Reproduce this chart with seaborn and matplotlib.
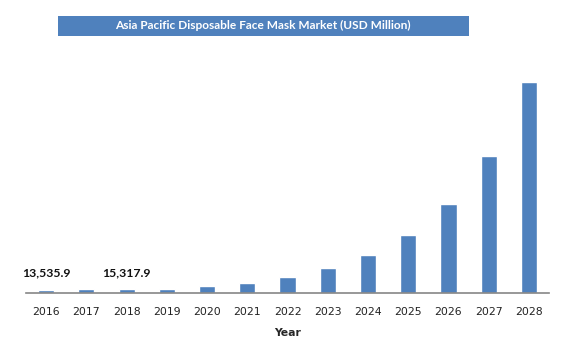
import numpy as np
import pandas as pd
import matplotlib
matplotlib.use("Agg")
import matplotlib.pyplot as plt
import seaborn as sns
from matplotlib.patches import Rectangle

years = ["2016", "2017", "2018", "2019", "2020", "2021", "2022",
         "2023", "2024", "2025", "2026", "2027", "2028"]
market = [13535.9, 14400, 15317.9, 16300, 28000, 38600, 63000,
          96500, 146700, 224000, 343700, 529000, 815000]
# only these bars carry a label in the source
labelled = {"2016": "13,535.9", "2018": "15,317.9"}

title = "Asia Pacific Disposable Face Mask Market (USD Million)"
bar_color = "#4F81BD"
axis_gray = "#868686"

sns.set_theme(style="white")
plt.rcParams['font.family'] = ['DejaVu Sans']

df = pd.DataFrame({"Year": years, "Value": market})

fig = plt.figure(figsize=(5.81, 3.55), dpi=100)
ax = fig.add_axes([0.0448, 0.1746, 0.9002, 0.656])

sns.barplot(data=df, x="Year", y="Value", color=bar_color, width=0.4,
            saturation=1, ax=ax)

ax.set_xlim(-0.5, len(years) - 0.5)
ax.set_ylim(0, 900000)

# category boundary ticks like the original
ax.set_xticks(np.arange(-0.5, len(years), 1.0), minor=True)
ax.tick_params(axis="x", which="minor", length=4, width=1, color=axis_gray,
               direction="out")
ax.tick_params(axis="x", which="major", length=0, pad=10, labelsize=7.8,
               labelcolor="#222222")
ax.set_yticks([])
ax.set_ylabel("")
ax.set_xlabel("Year", fontsize=7.8, fontweight="bold", labelpad=8)

for side in ["top", "right", "left"]:
    ax.spines[side].set_visible(False)
ax.spines["bottom"].set_color(axis_gray)
ax.spines["bottom"].set_linewidth(1.2)

for i, yr in enumerate(years):
    if yr in labelled:
        ax.annotate(labelled[yr], (i, market[i]), xytext=(0, 8),
                    textcoords="offset points", ha="center", va="bottom",
                    fontsize=8.8, fontweight="bold", color="#111111",
                    family=["Lato", "DejaVu Sans"])

# title banner
fig.patches.append(Rectangle((0.0993, 0.8994), 0.7074, 0.0555,
                             transform=fig.transFigure, facecolor=bar_color,
                             edgecolor="none"))
fig.text(0.453, 0.9272, title, ha="center", va="center", color="white",
         fontsize=8.6, fontweight="bold", family=["Lato", "DejaVu Sans"])

fig.savefig("out.png", dpi=100)
